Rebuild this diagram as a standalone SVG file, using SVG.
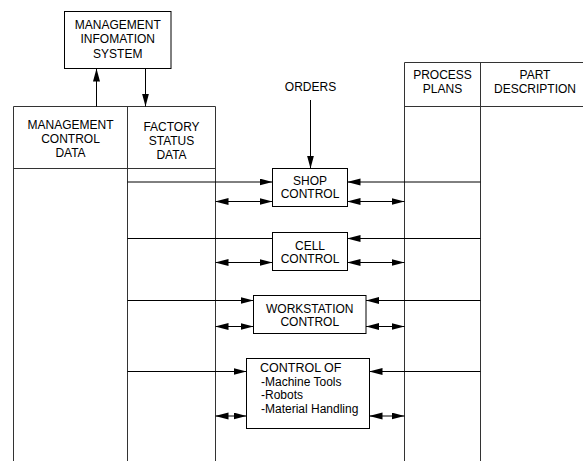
<svg xmlns="http://www.w3.org/2000/svg" width="583" height="461" viewBox="0 0 583 461">
<style>
  .t { font-family: "Liberation Sans", Arial, sans-serif; font-size: 12px; fill: #000; text-anchor: middle; }
  .tl { font-family: "Liberation Sans", Arial, sans-serif; font-size: 12px; fill: #000; }
  .box { fill: #fff; stroke: #000; stroke-width: 1; }
  .tbl { fill: none; stroke: #333; stroke-width: 1; }
  .ln { fill: none; stroke: #000; stroke-width: 1; }
  .a { marker-end: url(#ah); }
  .aa { marker-end: url(#ah); marker-start: url(#ah); }
</style>
<defs>
  <marker id="ah" markerUnits="userSpaceOnUse" markerWidth="13" markerHeight="8" refX="13" refY="3.5" orient="auto-start-reverse">
    <path d="M0,0 L13,3.5 L0,7 z" fill="#000"/>
  </marker>
</defs>
<rect width="583" height="461" fill="#fff"/>

<g id="tables">
  <path class="tbl" d="M13.5,461 V106.5 H215.5 V461 M127.5,106.5 V461 M13.5,168.5 H215.5"/>
  <path class="tbl" d="M404.5,461 V62.5 H583 M480.5,62.5 V461 M404.5,106.5 H583"/>
  <text class="t" x="70.5" y="128.5">MANAGEMENT</text>
  <text class="t" x="70.5" y="142.5">CONTROL</text>
  <text class="t" x="70.5" y="156.5">DATA</text>
  <text class="t" x="171.5" y="131">FACTORY</text>
  <text class="t" x="171.5" y="145">STATUS</text>
  <text class="t" x="171.5" y="159">DATA</text>
  <text class="t" x="442.5" y="79">PROCESS</text>
  <text class="t" x="442.5" y="93">PLANS</text>
  <text class="t" x="535" y="79">PART</text>
  <text class="t" x="535" y="93">DESCRIPTION</text>
</g>

<g id="connectors">
  <line class="ln a" x1="96.5" y1="106.5" x2="96.5" y2="68.5"/>
  <line class="ln a" x1="145.5" y1="68.5" x2="145.5" y2="106.5"/>
  <line class="ln a" x1="310.5" y1="100" x2="310.5" y2="168.5"/>
  <!-- shop -->
  <line class="ln a" x1="127.5" y1="182" x2="272.5" y2="182"/>
  <line class="ln a" x1="480.5" y1="182" x2="347.5" y2="182"/>
  <line class="ln aa" x1="215.5" y1="201.5" x2="272.5" y2="201.5"/>
  <line class="ln aa" x1="347.5" y1="201.5" x2="404.5" y2="201.5"/>
  <!-- cell -->
  <line class="ln" x1="127.5" y1="238.5" x2="272.5" y2="238.5"/>
  <line class="ln a" x1="480.5" y1="238.5" x2="347.5" y2="238.5"/>
  <line class="ln aa" x1="215.5" y1="262.5" x2="272.5" y2="262.5"/>
  <line class="ln aa" x1="347.5" y1="262.5" x2="404.5" y2="262.5"/>
  <!-- workstation -->
  <line class="ln a" x1="127.5" y1="300.5" x2="253.5" y2="300.5"/>
  <line class="ln a" x1="480.5" y1="300.5" x2="366" y2="300.5"/>
  <line class="ln aa" x1="215.5" y1="326.5" x2="253.5" y2="326.5"/>
  <line class="ln aa" x1="366" y1="326.5" x2="404.5" y2="326.5"/>
  <!-- control of -->
  <line class="ln a" x1="127.5" y1="371.5" x2="246.5" y2="371.5"/>
  <line class="ln a" x1="480.5" y1="371.5" x2="369.5" y2="371.5"/>
  <line class="ln aa" x1="215.5" y1="416" x2="246.5" y2="416"/>
  <line class="ln aa" x1="369.5" y1="416" x2="404.5" y2="416"/>
</g>

<g id="mis">
  <rect class="box" x="64.5" y="11.5" width="106.5" height="57"/>
  <text class="t" x="117.75" y="29">MANAGEMENT</text>
  <text class="t" x="117.75" y="43.3">INFOMATION</text>
  <text class="t" x="117.75" y="57.5">SYSTEM</text>
</g>

<g id="orders">
  <text class="t" x="310.5" y="91">ORDERS</text>
</g>

<g id="shop">
  <rect class="box" x="272.5" y="168.5" width="75" height="38"/>
  <text class="t" x="310" y="184.5">SHOP</text>
  <text class="t" x="310" y="198">CONTROL</text>
</g>

<g id="cell">
  <rect class="box" x="272.5" y="232.5" width="75" height="38"/>
  <text class="t" x="310" y="249.5">CELL</text>
  <text class="t" x="310" y="263">CONTROL</text>
</g>

<g id="workstation">
  <rect class="box" x="253.5" y="295.5" width="112.5" height="38"/>
  <text class="t" x="309.75" y="312.5">WORKSTATION</text>
  <text class="t" x="309.75" y="325.5">CONTROL</text>
</g>

<g id="control-of">
  <rect class="box" x="246.5" y="358.5" width="123" height="70"/>
  <text class="tl" x="260" y="372" style="font-size:12.5px">CONTROL OF</text>
  <text class="tl" x="261" y="385.5">-Machine Tools</text>
  <text class="tl" x="261" y="399">-Robots</text>
  <text class="tl" x="261" y="412.5">-Material Handling</text>
</g>
</svg>
